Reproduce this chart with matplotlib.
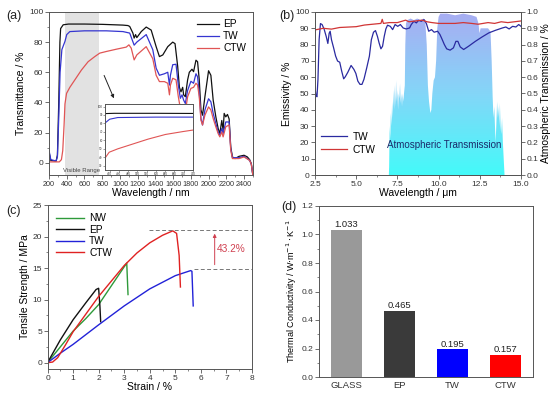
import numpy as np
import matplotlib
matplotlib.use("Agg")
import matplotlib.pyplot as plt
from matplotlib.colors import LinearSegmentedColormap
from matplotlib.ticker import MultipleLocator, FormatStrFormatter

plt.rcParams["font.family"] = ["Liberation Sans", "DejaVu Sans"]
plt.rcParams["axes.edgecolor"] = "#555555"
plt.rcParams["axes.linewidth"] = 0.7
plt.rcParams["xtick.color"] = "#555555"
plt.rcParams["ytick.color"] = "#555555"
plt.rcParams["xtick.labelcolor"] = "#333333"
plt.rcParams["ytick.labelcolor"] = "#333333"

# (a) transmittance spectra, wavelength in nm, T in %
ep_wl = [200, 220, 280, 295, 310, 323, 331, 360, 420, 600, 800, 1034, 1090, 1110, 1146, 1160,
         1176, 1190, 1240, 1296, 1352, 1408, 1445, 1483, 1539, 1595, 1621, 1651, 1670, 1688, 1707,
         1718, 1737, 1763, 1782, 1812, 1830, 1857, 1875, 1894, 1913, 1931, 1958, 1999, 2025, 2051,
         2081, 2107, 2126, 2148, 2163, 2175, 2193, 2212, 2231, 2249, 2268, 2298, 2343, 2399, 2436,
         2462, 2481, 2500]
ep_t = [7, 1.5, 1, 5, 40, 80, 89, 91.5, 92, 92, 91.8, 91.3, 91, 90.4, 86, 82.7,
        85, 83, 87, 90, 88, 77, 70.4, 71.5, 77, 80, 79, 63.8, 50, 47, 50,
        45, 43.8, 55, 60, 62, 60.4, 68, 67, 55, 35, 31.5, 43.8, 61, 58, 41.5,
        30.4, 22.7, 19.3, 28, 21.5, 32.7, 30.4, 32, 29, 10.4, 3.8, 2.7, 4.2, 4.9, 3.8,
        2, -0.7, -9]

tw_wl = [200, 220, 280, 295, 310, 325, 345, 380, 400, 435, 600, 847, 1034, 1110, 1160, 1190,
         1296, 1370, 1408, 1445, 1501, 1539, 1558, 1569, 1595, 1632, 1658, 1681, 1700, 1718, 1737,
         1763, 1800, 1830, 1857, 1875, 1894, 1913, 1931, 1958, 1999, 2025, 2051, 2081, 2107, 2126,
         2148, 2163, 2193, 2231, 2249, 2268, 2343, 2399, 2462, 2481, 2500]
tw_t = [8.2, 2, 1.1, 4, 30, 60, 75, 80.5, 85, 87, 87.5, 87.5, 87, 86, 78, 80,
        85, 75, 62.7, 58, 59, 60, 51.5, 58, 65, 65.3, 51.5, 42.7, 45, 41.5, 39.3,
        48, 54, 52.7, 59, 57, 46, 29.3, 25, 35, 42.4, 40.4, 32.7, 26, 20.4, 18.2,
        22.7, 19.3, 27, 27, 9.3, 3.3, 3.3, 4.2, 1.5, -1, -9]

ctw_wl = [200, 316, 340, 355, 370, 380, 398, 435, 492, 566, 641, 716, 772, 847, 959, 1071,
          1101, 1127, 1160, 1190, 1296, 1370, 1408, 1445, 1501, 1539, 1558, 1569, 1595, 1632, 1658,
          1681, 1700, 1718, 1737, 1763, 1800, 1830, 1857, 1875, 1894, 1913, 1931, 1958, 1999, 2025,
          2051, 2081, 2107, 2126, 2148, 2163, 2193, 2231, 2249, 2268, 2343, 2399, 2462, 2481, 2500]
ctw_t = [0.5, 0.5, 2, 8, 25, 39, 46, 50, 55, 61.5, 67, 70.4, 72.7, 73.8, 75.3, 76.7,
         78.2, 76, 68.2, 71.5, 77, 69, 58, 53.8, 53.8, 52.7, 45, 51.5, 56, 55, 43.8,
         36, 38.2, 35, 33.8, 43.8, 49.3, 50, 52.7, 51.5, 43.8, 28.2, 25, 31.5, 37, 35,
         29.3, 23.8, 19.3, 17.1, 20.4, 17.1, 23.8, 25, 8.2, 2.7, 2.7, 3.8, 1.5, -1, -9]

# (b) emissivity (%) and atmospheric window (fraction)
tw_em_wl = [2.5, 2.56, 2.62, 2.68, 2.75, 2.83, 2.93, 3.05, 3.18, 3.28, 3.36, 3.42, 3.5, 3.63,
            3.75, 3.87, 4.0, 4.12, 4.24, 4.34, 4.49, 4.69, 4.86, 4.98, 5.1, 5.23, 5.35, 5.47,
            5.64, 5.8, 5.92, 6.05, 6.17, 6.29, 6.39, 6.5, 6.6, 6.7, 6.8, 6.9, 7.07, 7.21, 7.36,
            7.52, 7.68, 7.85, 8.03, 8.24, 8.34, 8.5, 8.65, 8.79, 8.95, 9.12, 9.26, 9.4, 9.57,
            9.73, 9.94, 10.08, 10.18, 10.35, 10.49, 10.7, 10.9, 11.05, 11.17, 11.31, 11.52,
            11.82, 12.23, 12.64, 13.05, 13.46, 13.87, 14.08, 14.28, 14.49, 14.69, 14.86, 15.0]
tw_em = [54, 48.5, 48, 58.7, 83, 92.9, 92.3, 89.6, 85, 80.7, 87, 88.2, 83, 78,
         73, 69.9, 69.2, 63.7, 59, 60.3, 63, 67.2, 64.8, 62.3, 57.6, 55.6, 55.6, 58.7,
         65.8, 72.9, 83, 87.6, 88.6, 85, 81, 77.4, 79, 85, 89.6, 91.9, 91.2, 89.2, 92.3,
         91.2, 92.3, 90.2, 89.6, 90.2, 92.3, 94.3, 93.3, 94.9, 94.3, 95.3, 92.9, 88.2, 89.2,
         87.6, 88.2, 86.2, 84, 80, 77.4, 76.6, 78, 82, 82, 78.6, 77,
         79, 82, 84.7, 87.2, 88.8, 90.2, 90.8, 89.6, 91.2, 90.8, 92.3, 91.2]

ctw_em_wl = [2.5, 3.0, 3.5, 4.0, 5.0, 5.5, 6.0, 6.5, 6.58, 6.65, 7.0, 7.5, 8.0, 8.2, 8.6, 9.0,
             9.3, 9.6, 10.0, 10.5, 11.0, 11.5, 12.0, 12.4, 12.7, 13.0, 13.4, 13.8, 14.2, 14.6, 15.0]
ctw_em = [89, 90, 89.5, 90.5, 91, 92, 92.5, 93, 95.5, 93, 93.5, 93.5, 95, 94, 94.5, 95,
          94, 93.5, 93, 93, 93, 93.5, 93, 92.5, 93, 93.5, 93, 94, 93.5, 94, 94.5]

atm_wl = [6.98, 7.0, 7.03, 7.07, 7.1, 7.14, 7.18, 7.22, 7.26, 7.3, 7.34, 7.38, 7.42, 7.46, 7.5,
          7.54, 7.58, 7.62, 7.66, 7.7, 7.74, 7.78, 7.82, 7.86, 7.9, 7.95, 7.98, 8.02, 8.1, 8.3,
          8.5, 8.7, 8.9, 9.1, 9.2, 9.28, 9.35, 9.42, 9.5, 9.56, 9.62, 9.7, 9.78, 9.85, 9.92,
          10.0, 10.1, 10.5, 11.0, 11.5, 12.0, 12.3, 12.42, 12.48, 12.55, 12.8, 13.0, 13.15,
          13.22, 13.28, 13.33, 13.38, 13.42, 13.46, 13.5, 13.55, 13.6, 13.64, 13.68, 13.72,
          13.76, 13.8, 13.85, 13.9, 13.95, 14.0]
atm_t = [0, 0.05, 0.3, 0.22, 0.38, 0.3, 0.45, 0.35, 0.52, 0.4, 0.55, 0.42, 0.58, 0.45, 0.52,
         0.4, 0.5, 0.47, 0.56, 0.44, 0.5, 0.42, 0.5, 0.45, 0.5, 0.55, 0.8, 0.93, 0.95, 0.96,
         0.95, 0.96, 0.95, 0.96, 0.93, 0.8, 0.55, 0.45, 0.38, 0.4, 0.5, 0.58, 0.6, 0.7, 0.9,
         0.97, 0.99, 0.99, 0.98, 0.99, 0.98, 0.97, 0.93, 0.87, 0.9, 0.9, 0.9, 0.88,
         0.7, 0.48, 0.35, 0.42, 0.3, 0.2, 0.3, 0.45, 0.35, 0.42, 0.3, 0.44,
         0.3, 0.25, 0.35, 0.2, 0.1, 0.0]

# (c) stress-strain curves, strain in %, stress in MPa
nw_strain = [0, 0.5, 1, 1.5, 2, 2.5, 3.1, 3.15]
nw_stress = [0, 2.5, 5, 7, 9.2, 12.2, 15.8, 10.8]
ep_strain = [0, 0.25, 0.5, 1, 1.5, 1.9, 2.0, 2.05, 2.08]
ep_stress = [0, 1.8, 3.6, 6.8, 9.5, 11.6, 11.8, 9, 6.5]
tw_strain = [0, 0.5, 1, 2, 3, 4, 5, 5.6, 5.65, 5.7]
tw_stress = [0, 1.5, 2.9, 6, 9, 11.7, 13.8, 14.6, 14.5, 9]
ctw_strain = [0, 0.2, 0.4, 0.7, 1, 2, 3, 3.5, 4, 4.5, 4.9, 5.05, 5.15, 5.2]
ctw_stress = [0, 0.1, 0.8, 2.8, 4.9, 10.5, 15.4, 17.4, 19, 20.2, 20.9, 20.5, 17, 12]

# (d) thermal conductivity
materials = ["GLASS", "EP", "TW", "CTW"]
conductivity = [1.033, 0.465, 0.195, 0.157]
bar_colors = ["#999999", "#3a3a3a", "#0000ff", "#ff0000"]

tick_fs = 6.0
label_fs = 7.5


def style_axis(ax):
    ax.tick_params(which="major", direction="out", length=2.8, width=0.6, labelsize=tick_fs, pad=1.2)
    ax.tick_params(which="minor", direction="out", length=1.5, width=0.5)


fig = plt.figure(figsize=(5.5, 3.97), dpi=100)

# ---------- (a) ----------
ax_a = fig.add_axes([49 / 550, 1 - 175 / 397, 204 / 550, 163 / 397])
ax_a.axvspan(380, 760, color="#e2e2e2", lw=0, zorder=0)
ax_a.plot(ep_wl, ep_t, color="#111111", lw=0.9, label="EP")
ax_a.plot(tw_wl, tw_t, color="#3535d0", lw=0.9, label="TW")
ax_a.plot(ctw_wl, ctw_t, color="#e05555", lw=0.9, label="CTW")
ax_a.set_xlim(200, 2500)
ax_a.set_ylim(-8.2, 100)
ax_a.xaxis.set_major_locator(MultipleLocator(200))
ax_a.xaxis.set_minor_locator(MultipleLocator(100))
ax_a.yaxis.set_major_locator(MultipleLocator(20))
ax_a.yaxis.set_minor_locator(MultipleLocator(10))
style_axis(ax_a)
ax_a.tick_params(axis="x", labelsize=5.2)
ax_a.set_xlabel("Wavelength / nm", fontsize=label_fs, labelpad=0.5)
ax_a.set_ylabel("Transmittance / %", fontsize=label_fs, labelpad=2)
ax_a.legend(loc="upper right", fontsize=7.3, frameon=False, handlelength=2.2,
            handletextpad=0.4, labelspacing=0.2, borderaxespad=0.3)
ax_a.text(570, -5.5, "Visible Range", fontsize=4.3, color="#444444", ha="center", va="center")
ax_a.annotate("", xy=(944, 41), xytext=(809, 59.6),
              arrowprops=dict(arrowstyle="-|>", color="#222222", lw=0.7, mutation_scale=5))

# inset zoom of the visible range
ins = fig.add_axes([105 / 550, 1 - 170 / 397, 88 / 550, 66 / 397])
ins.plot(ep_wl, ep_t, color="#111111", lw=0.8)
ins.plot(tw_wl, tw_t, color="#3535d0", lw=0.8)
ins.plot(ctw_wl, ctw_t, color="#e05555", lw=0.8)
ins.set_xlim(380, 760)
ins.set_ylim(25, 103)
ins.xaxis.set_major_locator(MultipleLocator(40))
ins.yaxis.set_major_locator(MultipleLocator(10))
ins.tick_params(direction="out", length=1.2, width=0.4, labelsize=2.2, pad=0.5)

# ---------- (b) ----------
ax_b = fig.add_axes([315 / 550, 1 - 175 / 397, 206 / 550, 163 / 397])
ax_b2 = ax_b.twinx()
atm_cmap = LinearSegmentedColormap.from_list(
    "atm", [(0.0, "#44fafa"), (0.5, "#84d6f8"), (1.0, "#a8acf2")])
grad = np.linspace(0, 1, 256).reshape(-1, 1)
im = ax_b2.imshow(grad, extent=[2.5, 15, 0, 1], origin="lower", aspect="auto", cmap=atm_cmap)
window = ax_b2.fill_between(atm_wl, atm_t, facecolor="none", edgecolor="none")
im.set_clip_path(window.get_paths()[0], transform=ax_b2.transData)
ax_b2.set_xlim(2.5, 15)
ax_b2.set_ylim(0, 1)
ax_b2.yaxis.set_major_locator(MultipleLocator(0.1))
ax_b2.yaxis.set_major_formatter(FormatStrFormatter("%.1f"))
style_axis(ax_b2)
ax_b2.set_ylabel("Atmospheric Transmission / %", fontsize=label_fs, labelpad=1.5)

ax_b.set_zorder(ax_b2.get_zorder() + 1)
ax_b.patch.set_visible(False)
ax_b.plot(tw_em_wl, tw_em, color="#2a2aa0", lw=0.9, label="TW")
ax_b.plot(ctw_em_wl, ctw_em, color="#d03535", lw=0.9, label="CTW")
ax_b.set_xlim(2.5, 15)
ax_b.set_ylim(0, 100)
ax_b.xaxis.set_major_locator(MultipleLocator(2.5))
ax_b.xaxis.set_minor_locator(MultipleLocator(1.25))
ax_b.yaxis.set_major_locator(MultipleLocator(10))
style_axis(ax_b)
ax_b.set_xlabel("Wavelength / μm", fontsize=label_fs, labelpad=0.5)
ax_b.set_ylabel("Emissivity / %", fontsize=label_fs, labelpad=2)
ax_b.legend(loc="upper left", bbox_to_anchor=(0.01, 0.29), fontsize=7.3, frameon=False,
            handlelength=2.6, handletextpad=0.5, labelspacing=0.3, borderaxespad=0)
ax_b.text(10.35, 18.5, "Atmospheric Transmission", fontsize=7, color="#1a2a6a",
          ha="center", va="center")

# ---------- (c) ----------
ax_c = fig.add_axes([47.5 / 550, 1 - 369 / 397, 204.5 / 550, 164 / 397])
ax_c.plot(nw_strain, nw_stress, color="#2e9a3a", lw=1.0, label="NW")
ax_c.plot(ep_strain, ep_stress, color="#111111", lw=1.0, label="EP")
ax_c.plot(tw_strain, tw_stress, color="#2222d8", lw=1.0, label="TW")
ax_c.plot(ctw_strain, ctw_stress, color="#e02222", lw=1.0, label="CTW")
ctw_peak = max(ctw_stress)
tw_peak = max(tw_stress)
ax_c.hlines(ctw_peak + 0.2, 3.97, 8, colors="#777777", linestyles=(0, (4, 2.5)), lw=0.7)
ax_c.hlines(tw_peak + 0.2, 5.72, 8, colors="#777777", linestyles=(0, (4, 2.5)), lw=0.7)
ax_c.annotate("", xy=(6.54, ctw_peak), xytext=(6.54, tw_peak + 0.5),
              arrowprops=dict(arrowstyle="-|>", color="#d04050", lw=0.7, mutation_scale=5))
ax_c.text(6.64, 18.0, "43.2%", color="#d04050", fontsize=7.3, va="center")
ax_c.set_xlim(0, 8)
ax_c.set_ylim(-1, 25)
ax_c.xaxis.set_major_locator(MultipleLocator(1))
ax_c.xaxis.set_minor_locator(MultipleLocator(0.5))
ax_c.yaxis.set_major_locator(MultipleLocator(5))
ax_c.yaxis.set_minor_locator(MultipleLocator(2.5))
style_axis(ax_c)
ax_c.set_xlabel("Strain / %", fontsize=label_fs, labelpad=0.5)
ax_c.set_ylabel("Tensile Strength / MPa", fontsize=label_fs, labelpad=2)
ax_c.legend(loc="upper left", fontsize=7.3, frameon=False, handlelength=2.8,
            handletextpad=0.5, labelspacing=0.15, borderaxespad=0.4)

# ---------- (d) ----------
ax_d = fig.add_axes([319 / 550, 1 - 377 / 397, 214 / 550, 171 / 397])
bars = ax_d.bar(materials, conductivity, width=0.6, color=bar_colors)
ax_d.bar_label(bars, fmt="%.3f", padding=0.5, fontsize=6.8, color="#222222")
ax_d.set_xlim(-0.52, 3.52)
ax_d.set_ylim(0, 1.2)
ax_d.yaxis.set_major_locator(MultipleLocator(0.2))
ax_d.yaxis.set_minor_locator(MultipleLocator(0.1))
style_axis(ax_d)
ax_d.tick_params(axis="x", labelsize=6.8, length=0, pad=3)
ax_d.set_ylabel(r"Thermal Conductivity / W$\cdot$m$^{-1}\cdot$K$^{-1}$", fontsize=6.5, labelpad=2)

# panel letters
for txt, x, y in [("(a)", 6, 16), ("(b)", 279, 16), ("(c)", 6, 211), ("(d)", 281, 207)]:
    fig.text(x / 550, 1 - y / 397, txt, fontsize=9, color="#222222", va="center")

fig.savefig("out.png", dpi=100)
